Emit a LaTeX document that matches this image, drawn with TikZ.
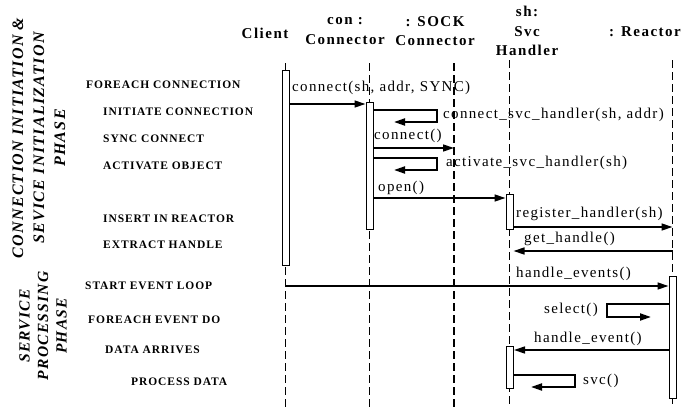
\documentclass[tikz,border=0pt]{standalone}
\usepackage{fontspec}
\setmainfont{Liberation Serif}
\newfontfamily\hdrfont[LetterSpace=10]{Liberation Serif}
\newfontfamily\lblfont[LetterSpace=8]{Liberation Serif}
\newfontfamily\msgfont[LetterSpace=9]{Liberation Serif}
\newfontfamily\phfont[LetterSpace=8]{Liberation Serif}
\usetikzlibrary{arrows.meta}
\begin{document}
\begin{tikzpicture}[x=1pt,y=-1pt,
  hdr/.style={font=\hdrfont\bfseries\fontsize{15}{19.5}\selectfont, align=center, inner sep=0},
  lbl/.style={font=\lblfont\bfseries\fontsize{11.5}{13}\selectfont, anchor=west, inner sep=0},
  ph/.style={font=\phfont\bfseries\itshape\fontsize{16}{21}\selectfont, align=center, inner sep=0, rotate=90},
  msgt/.style={font=\msgfont\fontsize{15}{17}\selectfont, anchor=west, inner sep=0},
  life/.style={line width=1.3pt, dash pattern=on 8pt off 4pt},
  bar/.style={draw, fill=white, line width=1pt, minimum width=7pt, inner sep=0},
  msg/.style={line width=1.4pt, -{Triangle[length=11pt,width=7pt]}},
  self/.style={line width=2pt, -{Triangle[length=11pt,width=7pt]}}
]
\useasboundingbox (0,0) rectangle (694,407);
% headers
\node[hdr] (hcl) at (265,33) {Client};
\node[hdr] (hcon) at (345,31) {con :\\Connector};
\node[hdr] (hsock) at (435,31) {: SOCK\\Connector};
\node[hdr] (hsh) at (527,31) {sh:\\Svc\\Handler};
\node[hdr] (hre) at (645,32) {: Reactor};
% lifelines
\coordinate (clT) at (285.5,63); \coordinate (clB) at (285.5,407);
\coordinate (conT) at (369.5,63); \coordinate (conB) at (369.5,407);
\coordinate (soT) at (454,63); \coordinate (soB) at (454,407);
\coordinate (shT) at (509.5,60); \coordinate (shB) at (509.5,407);
\coordinate (reT) at (672.5,60); \coordinate (reB) at (672.5,407);
\draw[life] (clT) -- (clB);
\draw[life] (conT) -- (conB);
\draw[life, line width=2pt] (soT) -- (soB);
\draw[life] (shT) -- (shB);
\draw[life] (reT) -- (reB);
% activation bars
\node[bar, minimum height=195pt] (cl1) at (285.5,167.5) {};
\node[bar, minimum height=127pt] (con1) at (369.5,165.5) {};
\node[bar, minimum height=35pt] (sh1) at (509.5,211.5) {};
\node[bar, minimum height=42pt] (sh2) at (510,367) {};
\node[bar, minimum height=122pt] (re1) at (672.5,337) {};
% phase labels
\node[ph] (p1) at (39,138) {CONNECTION INITIATION \&\\SEVICE INITIALIZATION\\PHASE};
\node[ph, font=\phfont\bfseries\itshape\fontsize{15.5}{18.5}\selectfont] (p2) at (43,326) {SERVICE\\PROCESSING\\PHASE};
% step labels
\node[lbl] (l1) at (86,85) {FOREACH CONNECTION};
\node[lbl] (l2) at (103,112) {INITIATE CONNECTION};
\node[lbl] (l3) at (103,139) {SYNC CONNECT};
\node[lbl] (l4) at (103,166) {ACTIVATE OBJECT};
\node[lbl] (l5) at (103,219) {INSERT IN REACTOR};
\node[lbl] (l6) at (103,245) {EXTRACT HANDLE};
\node[lbl] (l7) at (85,286) {START EVENT LOOP};
\node[lbl] (l8) at (88,320) {FOREACH EVENT DO};
\node[lbl] (l9) at (105,350) {DATA ARRIVES};
\node[lbl] (l10) at (131,382) {PROCESS DATA};
% messages
\draw[msg] (cl1.east |- 0,104) -- (con1.west |- 0,104);
\node[msgt] (m1) at (292,88) {connect(sh, addr, SYNC)};
\coordinate (s1a) at (437,110); \coordinate (s1b) at (437,122); \coordinate (s1c) at (394,122);
\draw[self] (con1.east |- s1a) -- (s1a) -- (s1b) -- (s1c);
\node[msgt] (m2) at (443,115) {connect\_svc\_handler(sh, addr)};
\draw[msg] (con1.east |- 0,148) -- (soT |- 0,148);
\node[msgt] (m3) at (374,136) {connect()};
\coordinate (s2a) at (437,158); \coordinate (s2b) at (437,170); \coordinate (s2c) at (394,170);
\draw[self] (con1.east |- s2a) -- (s2a) -- (s2b) -- (s2c);
\node[msgt] (m4) at (446,163) {activate\_svc\_handler(sh)};
\draw[msg] (con1.east |- 0,198) -- (sh1.west |- 0,198);
\node[msgt] (m5) at (378,188) {open()};
\draw[msg] (sh1.east |- 0,227) -- (reT |- 0,227);
\node[msgt] (m6) at (516,214) {register\_handler(sh)};
\draw[msg] (reT |- 0,251) -- (sh1.east |- 0,251);
\node[msgt] (m7) at (524,239) {get\_handle()};
\draw[msg] (clT |- 0,286) -- (re1.west |- 0,286);
\node[msgt] (m8) at (516,274) {handle\_events()};
\coordinate (s3a) at (607,304); \coordinate (s3b) at (607,317); \coordinate (s3c) at (651,317);
\draw[self] (re1.west |- s3a) -- (s3a) -- (s3b) -- (s3c);
\node[msgt, anchor=east] (m9) at (598,310) {select()};
\draw[msg] (re1.west |- 0,350) -- (sh2.east |- 0,350);
\node[msgt] (m10) at (534,339) {handle\_event()};
\coordinate (s4a) at (575,375); \coordinate (s4b) at (575,387); \coordinate (s4c) at (531,387);
\draw[self] (sh2.east |- s4a) -- (s4a) -- (s4b) -- (s4c);
\node[msgt] (m11) at (583,381) {svc()};
\end{tikzpicture}
\end{document}
